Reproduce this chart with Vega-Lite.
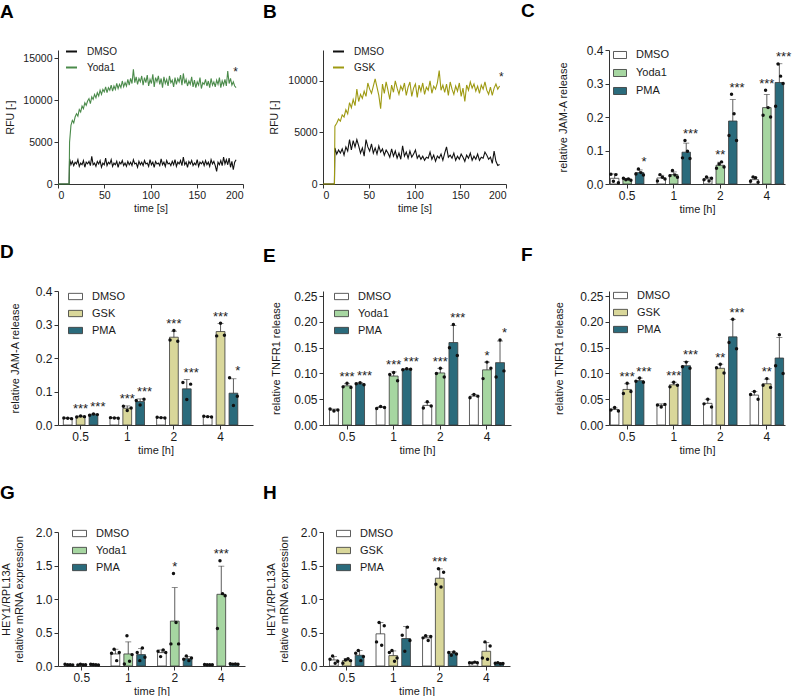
{
  "$schema": "https://vega.github.io/schema/vega-lite/v6.json",
  "padding": {"left": 0, "top": 2, "right": 2, "bottom": 0},
  "columns": 3,
  "align": "each",
  "spacing": {"row": 29, "column": 10},
  "resolve": {
    "scale": {"color": "independent", "fill": "independent"},
    "legend": {"color": "independent", "fill": "independent"}
  },
  "datasets": {
    "tsA": [
      {"t":0,"DMSO":0,"Yoda1":0},{"t":12,"DMSO":0,"Yoda1":0},
      {"t":12.5,"DMSO":3000,"Yoda1":5000},{"t":14,"DMSO":2300,"Yoda1":7000},{"t":15.5,"DMSO":2700,"Yoda1":7600},{"t":17,"DMSO":2200,"Yoda1":7300},{"t":18.5,"DMSO":2600,"Yoda1":8000},{"t":20,"DMSO":2400,"Yoda1":8400},{"t":21.5,"DMSO":2900,"Yoda1":8100},{"t":23,"DMSO":2100,"Yoda1":8900},{"t":24.5,"DMSO":2500,"Yoda1":8600},{"t":26,"DMSO":2300,"Yoda1":9300},{"t":27.5,"DMSO":2800,"Yoda1":9000},{"t":29,"DMSO":2000,"Yoda1":9700},{"t":30.5,"DMSO":2600,"Yoda1":9400},{"t":32,"DMSO":2400,"Yoda1":9900},{"t":33.5,"DMSO":2700,"Yoda1":10200},{"t":35,"DMSO":2200,"Yoda1":9600},{"t":36.5,"DMSO":3300,"Yoda1":10400},{"t":38,"DMSO":2300,"Yoda1":10100},{"t":39.5,"DMSO":2500,"Yoda1":10700},{"t":41,"DMSO":2100,"Yoda1":10300},{"t":42.5,"DMSO":2700,"Yoda1":10900},{"t":44,"DMSO":2400,"Yoda1":10500},{"t":45.5,"DMSO":2800,"Yoda1":11200},{"t":47,"DMSO":2000,"Yoda1":10700},{"t":48.5,"DMSO":2500,"Yoda1":11300},{"t":50,"DMSO":2300,"Yoda1":11000},{"t":51.5,"DMSO":3100,"Yoda1":11600},{"t":53,"DMSO":2200,"Yoda1":10900},{"t":54.5,"DMSO":2600,"Yoda1":11500},{"t":56,"DMSO":2400,"Yoda1":11200},{"t":57.5,"DMSO":2900,"Yoda1":11800},{"t":59,"DMSO":2100,"Yoda1":11100},{"t":60.5,"DMSO":2500,"Yoda1":11700},{"t":62,"DMSO":2300,"Yoda1":11300},{"t":63.5,"DMSO":2700,"Yoda1":12000},{"t":65,"DMSO":2000,"Yoda1":11400},{"t":66.5,"DMSO":2600,"Yoda1":11900},{"t":68,"DMSO":2400,"Yoda1":11500},{"t":69.5,"DMSO":2800,"Yoda1":12300},{"t":71,"DMSO":2200,"Yoda1":11600},{"t":72.5,"DMSO":2500,"Yoda1":12100},{"t":74,"DMSO":2100,"Yoda1":11700},{"t":75.5,"DMSO":2700,"Yoda1":12500},{"t":77,"DMSO":2300,"Yoda1":11800},{"t":78.5,"DMSO":2600,"Yoda1":12600},{"t":80,"DMSO":2200,"Yoda1":12000},{"t":81.5,"DMSO":2900,"Yoda1":13700},{"t":83,"DMSO":2400,"Yoda1":12100},{"t":84.5,"DMSO":2500,"Yoda1":12800},{"t":86,"DMSO":2000,"Yoda1":11900},{"t":87.5,"DMSO":2700,"Yoda1":12600},{"t":89,"DMSO":2300,"Yoda1":12200},{"t":90.5,"DMSO":2600,"Yoda1":12900},{"t":92,"DMSO":2200,"Yoda1":11800},{"t":93.5,"DMSO":2800,"Yoda1":12700},{"t":95,"DMSO":2400,"Yoda1":12100},{"t":96.5,"DMSO":2500,"Yoda1":13000},{"t":98,"DMSO":2100,"Yoda1":11700},{"t":99.5,"DMSO":2900,"Yoda1":12500},{"t":101,"DMSO":2300,"Yoda1":12000},{"t":102.5,"DMSO":2600,"Yoda1":13100},{"t":104,"DMSO":2000,"Yoda1":11600},{"t":105.5,"DMSO":2700,"Yoda1":12700},{"t":107,"DMSO":2400,"Yoda1":12200},{"t":108.5,"DMSO":2500,"Yoda1":12900},{"t":110,"DMSO":2200,"Yoda1":11900},{"t":111.5,"DMSO":3000,"Yoda1":12600},{"t":113,"DMSO":2300,"Yoda1":11500},{"t":114.5,"DMSO":2600,"Yoda1":12800},{"t":116,"DMSO":2100,"Yoda1":12000},{"t":117.5,"DMSO":2800,"Yoda1":12500},{"t":119,"DMSO":2400,"Yoda1":11700},{"t":120.5,"DMSO":2500,"Yoda1":12900},{"t":122,"DMSO":2200,"Yoda1":12100},{"t":123.5,"DMSO":2700,"Yoda1":12400},{"t":125,"DMSO":2300,"Yoda1":11600},{"t":126.5,"DMSO":2900,"Yoda1":12700},{"t":128,"DMSO":2100,"Yoda1":11900},{"t":129.5,"DMSO":2600,"Yoda1":12600},{"t":131,"DMSO":2400,"Yoda1":12200},{"t":132.5,"DMSO":2800,"Yoda1":13000},{"t":134,"DMSO":2200,"Yoda1":11800},{"t":135.5,"DMSO":3200,"Yoda1":13200},{"t":137,"DMSO":2300,"Yoda1":12000},{"t":138.5,"DMSO":2600,"Yoda1":12500},{"t":140,"DMSO":2000,"Yoda1":11700},{"t":141.5,"DMSO":2700,"Yoda1":12300},{"t":143,"DMSO":2400,"Yoda1":11900},{"t":144.5,"DMSO":2800,"Yoda1":12800},{"t":146,"DMSO":2200,"Yoda1":11600},{"t":147.5,"DMSO":2500,"Yoda1":12400},{"t":149,"DMSO":2300,"Yoda1":11500},{"t":150.5,"DMSO":2900,"Yoda1":12200},{"t":152,"DMSO":2100,"Yoda1":11800},{"t":153.5,"DMSO":2600,"Yoda1":12700},{"t":155,"DMSO":2400,"Yoda1":11400},{"t":156.5,"DMSO":2700,"Yoda1":12100},{"t":158,"DMSO":2200,"Yoda1":11900},{"t":159.5,"DMSO":2800,"Yoda1":12500},{"t":161,"DMSO":2300,"Yoda1":11700},{"t":162.5,"DMSO":2600,"Yoda1":12300},{"t":164,"DMSO":2100,"Yoda1":11500},{"t":165.5,"DMSO":2900,"Yoda1":12600},{"t":167,"DMSO":2400,"Yoda1":11800},{"t":168.5,"DMSO":2700,"Yoda1":12200},{"t":170,"DMSO":2200,"Yoda1":11600},{"t":171.5,"DMSO":1500,"Yoda1":12400},{"t":173,"DMSO":2600,"Yoda1":11900},{"t":174.5,"DMSO":2300,"Yoda1":12700},{"t":176,"DMSO":2800,"Yoda1":11500},{"t":177.5,"DMSO":2200,"Yoda1":12300},{"t":179,"DMSO":3200,"Yoda1":11800},{"t":180.5,"DMSO":2400,"Yoda1":12500},{"t":182,"DMSO":2900,"Yoda1":11700},{"t":183.5,"DMSO":2300,"Yoda1":13500},{"t":185,"DMSO":3100,"Yoda1":12000},{"t":186.5,"DMSO":2000,"Yoda1":12600},{"t":188,"DMSO":2700,"Yoda1":11800},{"t":189.5,"DMSO":1700,"Yoda1":12200},{"t":191,"DMSO":2600,"Yoda1":11700},{"t":192.5,"DMSO":2900,"Yoda1":11500}
    ],
    "tsB": [
      {"t":0,"DMSO":0,"GSK":0},{"t":12.5,"DMSO":0,"GSK":0},
      {"t":13,"DMSO":3500,"GSK":5600},{"t":15,"DMSO":2900,"GSK":5900},{"t":17,"DMSO":3300,"GSK":6300},{"t":19,"DMSO":3000,"GSK":6100},{"t":21,"DMSO":3400,"GSK":6700},{"t":23,"DMSO":2800,"GSK":6500},{"t":25,"DMSO":3600,"GSK":7200},{"t":27,"DMSO":3200,"GSK":6800},{"t":29,"DMSO":4300,"GSK":7900},{"t":31,"DMSO":3300,"GSK":7400},{"t":33,"DMSO":4200,"GSK":8200},{"t":35,"DMSO":3600,"GSK":7600},{"t":37,"DMSO":4300,"GSK":9200},{"t":39,"DMSO":3700,"GSK":8000},{"t":41,"DMSO":3000,"GSK":8700},{"t":43,"DMSO":3500,"GSK":8300},{"t":45,"DMSO":2700,"GSK":9000},{"t":47,"DMSO":4300,"GSK":8500},{"t":49,"DMSO":3600,"GSK":9800},{"t":51,"DMSO":3200,"GSK":9200},{"t":53,"DMSO":3900,"GSK":8800},{"t":55,"DMSO":3000,"GSK":9500},{"t":57,"DMSO":3500,"GSK":10200},{"t":59,"DMSO":2900,"GSK":9400},{"t":61,"DMSO":3700,"GSK":8600},{"t":63,"DMSO":3100,"GSK":7300},{"t":65,"DMSO":3400,"GSK":9700},{"t":67,"DMSO":2800,"GSK":8800},{"t":69,"DMSO":3300,"GSK":9900},{"t":71,"DMSO":3000,"GSK":9100},{"t":73,"DMSO":2600,"GSK":8200},{"t":75,"DMSO":3400,"GSK":9600},{"t":77,"DMSO":2700,"GSK":8900},{"t":79,"DMSO":3200,"GSK":10000},{"t":81,"DMSO":2500,"GSK":9300},{"t":83,"DMSO":3000,"GSK":8700},{"t":85,"DMSO":2400,"GSK":9500},{"t":87,"DMSO":3700,"GSK":9100},{"t":89,"DMSO":2700,"GSK":9800},{"t":91,"DMSO":3100,"GSK":8600},{"t":93,"DMSO":2500,"GSK":9400},{"t":95,"DMSO":3200,"GSK":9900},{"t":97,"DMSO":2600,"GSK":8500},{"t":99,"DMSO":2900,"GSK":9300},{"t":101,"DMSO":3300,"GSK":9700},{"t":103,"DMSO":2500,"GSK":8400},{"t":105,"DMSO":2800,"GSK":9600},{"t":107,"DMSO":2400,"GSK":9000},{"t":109,"DMSO":2700,"GSK":9800},{"t":111,"DMSO":2300,"GSK":8700},{"t":113,"DMSO":2600,"GSK":9400},{"t":115,"DMSO":2500,"GSK":9100},{"t":117,"DMSO":3100,"GSK":10000},{"t":119,"DMSO":2400,"GSK":8800},{"t":121,"DMSO":2800,"GSK":9500},{"t":123,"DMSO":2200,"GSK":9200},{"t":125,"DMSO":2700,"GSK":9800},{"t":127,"DMSO":2500,"GSK":11000},{"t":129,"DMSO":2900,"GSK":9100},{"t":131,"DMSO":2300,"GSK":9600},{"t":133,"DMSO":3000,"GSK":8900},{"t":135,"DMSO":3600,"GSK":9700},{"t":137,"DMSO":2600,"GSK":8600},{"t":139,"DMSO":2800,"GSK":9900},{"t":141,"DMSO":2500,"GSK":9200},{"t":143,"DMSO":3000,"GSK":8700},{"t":145,"DMSO":2300,"GSK":9500},{"t":147,"DMSO":2700,"GSK":9000},{"t":149,"DMSO":2400,"GSK":9800},{"t":151,"DMSO":2900,"GSK":8500},{"t":153,"DMSO":2600,"GSK":9300},{"t":155,"DMSO":2200,"GSK":8000},{"t":157,"DMSO":2800,"GSK":9600},{"t":159,"DMSO":2500,"GSK":9100},{"t":161,"DMSO":3000,"GSK":9900},{"t":163,"DMSO":2300,"GSK":9300},{"t":165,"DMSO":2700,"GSK":9700},{"t":167,"DMSO":2400,"GSK":9000},{"t":169,"DMSO":2900,"GSK":9500},{"t":171,"DMSO":2300,"GSK":8800},{"t":173,"DMSO":2600,"GSK":9600},{"t":175,"DMSO":2500,"GSK":9200},{"t":177,"DMSO":3100,"GSK":9900},{"t":179,"DMSO":2800,"GSK":9100},{"t":181,"DMSO":2400,"GSK":8700},{"t":183,"DMSO":2600,"GSK":9400},{"t":185,"DMSO":2000,"GSK":8600},{"t":187,"DMSO":3200,"GSK":9300},{"t":189,"DMSO":2200,"GSK":9700},{"t":191,"DMSO":1800,"GSK":9200},{"t":193,"DMSO":1900,"GSK":9500}
    ],
    "sC": [
      {"t":"0.5","g":"DMSO","cell":"0.5 DMSO","mean":0.017,"sd":0.013},
      {"t":"0.5","g":"Yoda1","cell":"0.5 Yoda1","mean":0.014,"sd":0.003},
      {"t":"0.5","g":"PMA","cell":"0.5 PMA","mean":0.034,"sd":0.008,"sig":"*"},
      {"t":"1","g":"DMSO","cell":"1 DMSO","mean":0.018,"sd":0.008},
      {"t":"1","g":"Yoda1","cell":"1 Yoda1","mean":0.028,"sd":0.008},
      {"t":"1","g":"PMA","cell":"1 PMA","mean":0.095,"sd":0.027,"sig":"***"},
      {"t":"2","g":"DMSO","cell":"2 DMSO","mean":0.015,"sd":0.005},
      {"t":"2","g":"Yoda1","cell":"2 Yoda1","mean":0.056,"sd":0.009,"sig":"**"},
      {"t":"2","g":"PMA","cell":"2 PMA","mean":0.188,"sd":0.064,"sig":"***"},
      {"t":"4","g":"DMSO","cell":"4 DMSO","mean":0.013,"sd":0.007},
      {"t":"4","g":"Yoda1","cell":"4 Yoda1","mean":0.228,"sd":0.039,"sig":"***"},
      {"t":"4","g":"PMA","cell":"4 PMA","mean":0.303,"sd":0.056,"sig":"***"}
    ],
    "rC": [
      {"t":"0.5","g":"DMSO","r":1,"v":0.029},{"t":"0.5","g":"DMSO","r":2,"v":0.008},{"t":"0.5","g":"DMSO","r":3,"v":0.028},{"t":"0.5","g":"DMSO","r":4,"v":0.004},
      {"t":"0.5","g":"Yoda1","r":1,"v":0.017},{"t":"0.5","g":"Yoda1","r":2,"v":0.013},{"t":"0.5","g":"Yoda1","r":3,"v":0.015},{"t":"0.5","g":"Yoda1","r":4,"v":0.011},
      {"t":"0.5","g":"PMA","r":1,"v":0.030},{"t":"0.5","g":"PMA","r":2,"v":0.045},{"t":"0.5","g":"PMA","r":3,"v":0.034},{"t":"0.5","g":"PMA","r":4,"v":0.027},
      {"t":"1","g":"DMSO","r":1,"v":0.009},{"t":"1","g":"DMSO","r":2,"v":0.028},{"t":"1","g":"DMSO","r":3,"v":0.020},{"t":"1","g":"DMSO","r":4,"v":0.015},
      {"t":"1","g":"Yoda1","r":1,"v":0.025},{"t":"1","g":"Yoda1","r":2,"v":0.040},{"t":"1","g":"Yoda1","r":3,"v":0.027},{"t":"1","g":"Yoda1","r":4,"v":0.020},
      {"t":"1","g":"PMA","r":1,"v":0.078},{"t":"1","g":"PMA","r":2,"v":0.130},{"t":"1","g":"PMA","r":3,"v":0.098},{"t":"1","g":"PMA","r":4,"v":0.076},
      {"t":"2","g":"DMSO","r":1,"v":0.013},{"t":"2","g":"DMSO","r":2,"v":0.021},{"t":"2","g":"DMSO","r":3,"v":0.009},{"t":"2","g":"DMSO","r":4,"v":0.017},
      {"t":"2","g":"Yoda1","r":1,"v":0.047},{"t":"2","g":"Yoda1","r":2,"v":0.060},{"t":"2","g":"Yoda1","r":3,"v":0.066},{"t":"2","g":"Yoda1","r":4,"v":0.051},
      {"t":"2","g":"PMA","r":1,"v":0.145},{"t":"2","g":"PMA","r":2,"v":0.268},{"t":"2","g":"PMA","r":3,"v":0.210},{"t":"2","g":"PMA","r":4,"v":0.130},
      {"t":"4","g":"DMSO","r":1,"v":0.008},{"t":"4","g":"DMSO","r":2,"v":0.021},{"t":"4","g":"DMSO","r":3,"v":0.019},{"t":"4","g":"DMSO","r":4,"v":0.005},
      {"t":"4","g":"Yoda1","r":1,"v":0.205},{"t":"4","g":"Yoda1","r":2,"v":0.280},{"t":"4","g":"Yoda1","r":3,"v":0.228},{"t":"4","g":"Yoda1","r":4,"v":0.200},
      {"t":"4","g":"PMA","r":1,"v":0.232},{"t":"4","g":"PMA","r":2,"v":0.358},{"t":"4","g":"PMA","r":3,"v":0.322},{"t":"4","g":"PMA","r":4,"v":0.300}
    ],
    "sD": [
      {"t":"0.5","g":"DMSO","cell":"0.5 DMSO","mean":0.020,"sd":0.001},
      {"t":"0.5","g":"GSK","cell":"0.5 GSK","mean":0.025,"sd":0.002,"sig":"***"},
      {"t":"0.5","g":"PMA","cell":"0.5 PMA","mean":0.031,"sd":0.002,"sig":"***"},
      {"t":"1","g":"DMSO","cell":"1 DMSO","mean":0.021,"sd":0.001},
      {"t":"1","g":"GSK","cell":"1 GSK","mean":0.050,"sd":0.007,"sig":"***"},
      {"t":"1","g":"PMA","cell":"1 PMA","mean":0.070,"sd":0.008,"sig":"***"},
      {"t":"2","g":"DMSO","cell":"2 DMSO","mean":0.022,"sd":0.001},
      {"t":"2","g":"GSK","cell":"2 GSK","mean":0.262,"sd":0.018,"sig":"***"},
      {"t":"2","g":"PMA","cell":"2 PMA","mean":0.108,"sd":0.028,"sig":"***"},
      {"t":"4","g":"DMSO","cell":"4 DMSO","mean":0.025,"sd":0.001},
      {"t":"4","g":"GSK","cell":"4 GSK","mean":0.279,"sd":0.024,"sig":"***"},
      {"t":"4","g":"PMA","cell":"4 PMA","mean":0.095,"sd":0.043,"sig":"*"}
    ],
    "rD": [
      {"t":"0.5","g":"DMSO","r":1,"v":0.021},{"t":"0.5","g":"DMSO","r":2,"v":0.020},{"t":"0.5","g":"DMSO","r":3,"v":0.019},
      {"t":"0.5","g":"GSK","r":1,"v":0.024},{"t":"0.5","g":"GSK","r":2,"v":0.027},{"t":"0.5","g":"GSK","r":3,"v":0.025},
      {"t":"0.5","g":"PMA","r":1,"v":0.029},{"t":"0.5","g":"PMA","r":2,"v":0.033},{"t":"0.5","g":"PMA","r":3,"v":0.031},
      {"t":"1","g":"DMSO","r":1,"v":0.022},{"t":"1","g":"DMSO","r":2,"v":0.021},{"t":"1","g":"DMSO","r":3,"v":0.020},
      {"t":"1","g":"GSK","r":1,"v":0.056},{"t":"1","g":"GSK","r":2,"v":0.043},{"t":"1","g":"GSK","r":3,"v":0.051},
      {"t":"1","g":"PMA","r":1,"v":0.073},{"t":"1","g":"PMA","r":2,"v":0.060},{"t":"1","g":"PMA","r":3,"v":0.077},
      {"t":"2","g":"DMSO","r":1,"v":0.023},{"t":"2","g":"DMSO","r":2,"v":0.022},{"t":"2","g":"DMSO","r":3,"v":0.021},
      {"t":"2","g":"GSK","r":1,"v":0.254},{"t":"2","g":"GSK","r":2,"v":0.282},{"t":"2","g":"GSK","r":3,"v":0.250},
      {"t":"2","g":"PMA","r":1,"v":0.127},{"t":"2","g":"PMA","r":2,"v":0.076},{"t":"2","g":"PMA","r":3,"v":0.122},
      {"t":"4","g":"DMSO","r":1,"v":0.026},{"t":"4","g":"DMSO","r":2,"v":0.025},{"t":"4","g":"DMSO","r":3,"v":0.024},
      {"t":"4","g":"GSK","r":1,"v":0.266},{"t":"4","g":"GSK","r":2,"v":0.304},{"t":"4","g":"GSK","r":3,"v":0.268},
      {"t":"4","g":"PMA","r":1,"v":0.141},{"t":"4","g":"PMA","r":2,"v":0.058},{"t":"4","g":"PMA","r":3,"v":0.086}
    ],
    "sE": [
      {"t":"0.5","g":"DMSO","cell":"0.5 DMSO","mean":0.029,"sd":0.002},
      {"t":"0.5","g":"Yoda1","cell":"0.5 Yoda1","mean":0.076,"sd":0.004,"sig":"***"},
      {"t":"0.5","g":"PMA","cell":"0.5 PMA","mean":0.080,"sd":0.002,"sig":"***"},
      {"t":"1","g":"DMSO","cell":"1 DMSO","mean":0.034,"sd":0.002},
      {"t":"1","g":"Yoda1","cell":"1 Yoda1","mean":0.095,"sd":0.008,"sig":"***"},
      {"t":"1","g":"PMA","cell":"1 PMA","mean":0.108,"sd":0.001,"sig":"***"},
      {"t":"2","g":"DMSO","cell":"2 DMSO","mean":0.038,"sd":0.006},
      {"t":"2","g":"Yoda1","cell":"2 Yoda1","mean":0.101,"sd":0.009,"sig":"***"},
      {"t":"2","g":"PMA","cell":"2 PMA","mean":0.160,"sd":0.033,"sig":"***"},
      {"t":"4","g":"DMSO","cell":"4 DMSO","mean":0.056,"sd":0.003},
      {"t":"4","g":"Yoda1","cell":"4 Yoda1","mean":0.107,"sd":0.015,"sig":"*"},
      {"t":"4","g":"PMA","cell":"4 PMA","mean":0.121,"sd":0.042,"sig":"*"}
    ],
    "rE": [
      {"t":"0.5","g":"DMSO","r":1,"v":0.031},{"t":"0.5","g":"DMSO","r":2,"v":0.027},{"t":"0.5","g":"DMSO","r":3,"v":0.029},
      {"t":"0.5","g":"Yoda1","r":1,"v":0.074},{"t":"0.5","g":"Yoda1","r":2,"v":0.081},{"t":"0.5","g":"Yoda1","r":3,"v":0.073},
      {"t":"0.5","g":"PMA","r":1,"v":0.080},{"t":"0.5","g":"PMA","r":2,"v":0.082},{"t":"0.5","g":"PMA","r":3,"v":0.078},
      {"t":"1","g":"DMSO","r":1,"v":0.032},{"t":"1","g":"DMSO","r":2,"v":0.036},{"t":"1","g":"DMSO","r":3,"v":0.034},
      {"t":"1","g":"Yoda1","r":1,"v":0.098},{"t":"1","g":"Yoda1","r":2,"v":0.102},{"t":"1","g":"Yoda1","r":3,"v":0.086},
      {"t":"1","g":"PMA","r":1,"v":0.107},{"t":"1","g":"PMA","r":2,"v":0.109},{"t":"1","g":"PMA","r":3,"v":0.108},
      {"t":"2","g":"DMSO","r":1,"v":0.033},{"t":"2","g":"DMSO","r":2,"v":0.045},{"t":"2","g":"DMSO","r":3,"v":0.037},
      {"t":"2","g":"Yoda1","r":1,"v":0.100},{"t":"2","g":"Yoda1","r":2,"v":0.110},{"t":"2","g":"Yoda1","r":3,"v":0.093},
      {"t":"2","g":"PMA","r":1,"v":0.150},{"t":"2","g":"PMA","r":2,"v":0.195},{"t":"2","g":"PMA","r":3,"v":0.135},
      {"t":"4","g":"DMSO","r":1,"v":0.053},{"t":"4","g":"DMSO","r":2,"v":0.059},{"t":"4","g":"DMSO","r":3,"v":0.056},
      {"t":"4","g":"Yoda1","r":1,"v":0.090},{"t":"4","g":"Yoda1","r":2,"v":0.122},{"t":"4","g":"Yoda1","r":3,"v":0.110},
      {"t":"4","g":"PMA","r":1,"v":0.093},{"t":"4","g":"PMA","r":2,"v":0.165},{"t":"4","g":"PMA","r":3,"v":0.105}
    ],
    "sF": [
      {"t":"0.5","g":"DMSO","cell":"0.5 DMSO","mean":0.030,"sd":0.003},
      {"t":"0.5","g":"GSK","cell":"0.5 GSK","mean":0.069,"sd":0.011,"sig":"***"},
      {"t":"0.5","g":"PMA","cell":"0.5 PMA","mean":0.086,"sd":0.005,"sig":"***"},
      {"t":"1","g":"DMSO","cell":"1 DMSO","mean":0.038,"sd":0.003},
      {"t":"1","g":"GSK","cell":"1 GSK","mean":0.078,"sd":0.005,"sig":"***"},
      {"t":"1","g":"PMA","cell":"1 PMA","mean":0.115,"sd":0.008,"sig":"***"},
      {"t":"2","g":"DMSO","cell":"2 DMSO","mean":0.042,"sd":0.008},
      {"t":"2","g":"GSK","cell":"2 GSK","mean":0.110,"sd":0.008,"sig":"**"},
      {"t":"2","g":"PMA","cell":"2 PMA","mean":0.171,"sd":0.034,"sig":"***"},
      {"t":"4","g":"DMSO","cell":"4 DMSO","mean":0.058,"sd":0.007},
      {"t":"4","g":"GSK","cell":"4 GSK","mean":0.080,"sd":0.009,"sig":"**"},
      {"t":"4","g":"PMA","cell":"4 PMA","mean":0.130,"sd":0.040}
    ],
    "rF": [
      {"t":"0.5","g":"DMSO","r":1,"v":0.029},{"t":"0.5","g":"DMSO","r":2,"v":0.034},{"t":"0.5","g":"DMSO","r":3,"v":0.027},
      {"t":"0.5","g":"GSK","r":1,"v":0.061},{"t":"0.5","g":"GSK","r":2,"v":0.081},{"t":"0.5","g":"GSK","r":3,"v":0.065},
      {"t":"0.5","g":"PMA","r":1,"v":0.085},{"t":"0.5","g":"PMA","r":2,"v":0.091},{"t":"0.5","g":"PMA","r":3,"v":0.083},
      {"t":"1","g":"DMSO","r":1,"v":0.039},{"t":"1","g":"DMSO","r":2,"v":0.035},{"t":"1","g":"DMSO","r":3,"v":0.040},
      {"t":"1","g":"GSK","r":1,"v":0.074},{"t":"1","g":"GSK","r":2,"v":0.083},{"t":"1","g":"GSK","r":3,"v":0.077},
      {"t":"1","g":"PMA","r":1,"v":0.113},{"t":"1","g":"PMA","r":2,"v":0.122},{"t":"1","g":"PMA","r":3,"v":0.110},
      {"t":"2","g":"DMSO","r":1,"v":0.041},{"t":"2","g":"DMSO","r":2,"v":0.050},{"t":"2","g":"DMSO","r":3,"v":0.035},
      {"t":"2","g":"GSK","r":1,"v":0.111},{"t":"2","g":"GSK","r":2,"v":0.118},{"t":"2","g":"GSK","r":3,"v":0.101},
      {"t":"2","g":"PMA","r":1,"v":0.160},{"t":"2","g":"PMA","r":2,"v":0.205},{"t":"2","g":"PMA","r":3,"v":0.148},
      {"t":"4","g":"DMSO","r":1,"v":0.059},{"t":"4","g":"DMSO","r":2,"v":0.065},{"t":"4","g":"DMSO","r":3,"v":0.050},
      {"t":"4","g":"GSK","r":1,"v":0.077},{"t":"4","g":"GSK","r":2,"v":0.090},{"t":"4","g":"GSK","r":3,"v":0.073},
      {"t":"4","g":"PMA","r":1,"v":0.115},{"t":"4","g":"PMA","r":2,"v":0.175},{"t":"4","g":"PMA","r":3,"v":0.100}
    ],
    "sG": [
      {"t":"0.5","g":"DMSO","cell":"0.5 DMSO","mean":0.02,"sd":0.004},
      {"t":"0.5","g":"Yoda1","cell":"0.5 Yoda1","mean":0.02,"sd":0.004},
      {"t":"0.5","g":"PMA","cell":"0.5 PMA","mean":0.02,"sd":0.004},
      {"t":"1","g":"DMSO","cell":"1 DMSO","mean":0.18,"sd":0.07},
      {"t":"1","g":"Yoda1","cell":"1 Yoda1","mean":0.18,"sd":0.18},
      {"t":"1","g":"PMA","cell":"1 PMA","mean":0.17,"sd":0.09},
      {"t":"2","g":"DMSO","cell":"2 DMSO","mean":0.2,"sd":0.04},
      {"t":"2","g":"Yoda1","cell":"2 Yoda1","mean":0.67,"sd":0.5,"sig":"*"},
      {"t":"2","g":"PMA","cell":"2 PMA","mean":0.11,"sd":0.03},
      {"t":"4","g":"DMSO","cell":"4 DMSO","mean":0.02,"sd":0.002},
      {"t":"4","g":"Yoda1","cell":"4 Yoda1","mean":1.07,"sd":0.42,"sig":"***"},
      {"t":"4","g":"PMA","cell":"4 PMA","mean":0.03,"sd":0.005}
    ],
    "rG": [
      {"t":"0.5","g":"DMSO","r":1,"v":0.025},{"t":"0.5","g":"DMSO","r":2,"v":0.02},{"t":"0.5","g":"DMSO","r":3,"v":0.02},{"t":"0.5","g":"DMSO","r":4,"v":0.015},
      {"t":"0.5","g":"Yoda1","r":1,"v":0.015},{"t":"0.5","g":"Yoda1","r":2,"v":0.025},{"t":"0.5","g":"Yoda1","r":3,"v":0.02},{"t":"0.5","g":"Yoda1","r":4,"v":0.02},
      {"t":"0.5","g":"PMA","r":1,"v":0.025},{"t":"0.5","g":"PMA","r":2,"v":0.022},{"t":"0.5","g":"PMA","r":3,"v":0.018},{"t":"0.5","g":"PMA","r":4,"v":0.015},
      {"t":"1","g":"DMSO","r":1,"v":0.19},{"t":"1","g":"DMSO","r":2,"v":0.25},{"t":"1","g":"DMSO","r":3,"v":0.08},{"t":"1","g":"DMSO","r":4,"v":0.20},
      {"t":"1","g":"Yoda1","r":1,"v":0.03},{"t":"1","g":"Yoda1","r":2,"v":0.45},{"t":"1","g":"Yoda1","r":3,"v":0.07},{"t":"1","g":"Yoda1","r":4,"v":0.17},
      {"t":"1","g":"PMA","r":1,"v":0.20},{"t":"1","g":"PMA","r":2,"v":0.08},{"t":"1","g":"PMA","r":3,"v":0.27},{"t":"1","g":"PMA","r":4,"v":0.13},
      {"t":"2","g":"DMSO","r":1,"v":0.22},{"t":"2","g":"DMSO","r":2,"v":0.14},{"t":"2","g":"DMSO","r":3,"v":0.24},{"t":"2","g":"DMSO","r":4,"v":0.20},
      {"t":"2","g":"Yoda1","r":1,"v":0.33},{"t":"2","g":"Yoda1","r":2,"v":1.38},{"t":"2","g":"Yoda1","r":3,"v":0.65},{"t":"2","g":"Yoda1","r":4,"v":0.33},
      {"t":"2","g":"PMA","r":1,"v":0.10},{"t":"2","g":"PMA","r":2,"v":0.15},{"t":"2","g":"PMA","r":3,"v":0.08},{"t":"2","g":"PMA","r":4,"v":0.12},
      {"t":"4","g":"DMSO","r":1,"v":0.022},{"t":"4","g":"DMSO","r":2,"v":0.02},{"t":"4","g":"DMSO","r":3,"v":0.019},{"t":"4","g":"DMSO","r":4,"v":0.018},
      {"t":"4","g":"Yoda1","r":1,"v":0.56},{"t":"4","g":"Yoda1","r":2,"v":1.57},{"t":"4","g":"Yoda1","r":3,"v":1.08},{"t":"4","g":"Yoda1","r":4,"v":1.05},
      {"t":"4","g":"PMA","r":1,"v":0.035},{"t":"4","g":"PMA","r":2,"v":0.028},{"t":"4","g":"PMA","r":3,"v":0.03},{"t":"4","g":"PMA","r":4,"v":0.025}
    ],
    "sH": [
      {"t":"0.5","g":"DMSO","cell":"0.5 DMSO","mean":0.09,"sd":0.05},
      {"t":"0.5","g":"GSK","cell":"0.5 GSK","mean":0.08,"sd":0.03},
      {"t":"0.5","g":"PMA","cell":"0.5 PMA","mean":0.16,"sd":0.07},
      {"t":"1","g":"DMSO","cell":"1 DMSO","mean":0.48,"sd":0.17},
      {"t":"1","g":"GSK","cell":"1 GSK","mean":0.155,"sd":0.07},
      {"t":"1","g":"PMA","cell":"1 PMA","mean":0.41,"sd":0.18},
      {"t":"2","g":"DMSO","cell":"2 DMSO","mean":0.42,"sd":0.03},
      {"t":"2","g":"GSK","cell":"2 GSK","mean":1.31,"sd":0.14,"sig":"***"},
      {"t":"2","g":"PMA","cell":"2 PMA","mean":0.19,"sd":0.022},
      {"t":"4","g":"DMSO","cell":"4 DMSO","mean":0.05,"sd":0.006},
      {"t":"4","g":"GSK","cell":"4 GSK","mean":0.22,"sd":0.13},
      {"t":"4","g":"PMA","cell":"4 PMA","mean":0.04,"sd":0.008}
    ],
    "rH": [
      {"t":"0.5","g":"DMSO","r":1,"v":0.10},{"t":"0.5","g":"DMSO","r":2,"v":0.15},{"t":"0.5","g":"DMSO","r":3,"v":0.04},{"t":"0.5","g":"DMSO","r":4,"v":0.07},
      {"t":"0.5","g":"GSK","r":1,"v":0.04},{"t":"0.5","g":"GSK","r":2,"v":0.09},{"t":"0.5","g":"GSK","r":3,"v":0.11},{"t":"0.5","g":"GSK","r":4,"v":0.08},
      {"t":"0.5","g":"PMA","r":1,"v":0.19},{"t":"0.5","g":"PMA","r":2,"v":0.23},{"t":"0.5","g":"PMA","r":3,"v":0.08},{"t":"0.5","g":"PMA","r":4,"v":0.14},
      {"t":"1","g":"DMSO","r":1,"v":0.36},{"t":"1","g":"DMSO","r":2,"v":0.65},{"t":"1","g":"DMSO","r":3,"v":0.31},{"t":"1","g":"DMSO","r":4,"v":0.60},
      {"t":"1","g":"GSK","r":1,"v":0.20},{"t":"1","g":"GSK","r":2,"v":0.23},{"t":"1","g":"GSK","r":3,"v":0.07},{"t":"1","g":"GSK","r":4,"v":0.12},
      {"t":"1","g":"PMA","r":1,"v":0.46},{"t":"1","g":"PMA","r":2,"v":0.22},{"t":"1","g":"PMA","r":3,"v":0.58},{"t":"1","g":"PMA","r":4,"v":0.38},
      {"t":"2","g":"DMSO","r":1,"v":0.42},{"t":"2","g":"DMSO","r":2,"v":0.45},{"t":"2","g":"DMSO","r":3,"v":0.38},{"t":"2","g":"DMSO","r":4,"v":0.44},
      {"t":"2","g":"GSK","r":1,"v":1.22},{"t":"2","g":"GSK","r":2,"v":1.45},{"t":"2","g":"GSK","r":3,"v":1.18},{"t":"2","g":"GSK","r":4,"v":1.40},
      {"t":"2","g":"PMA","r":1,"v":0.20},{"t":"2","g":"PMA","r":2,"v":0.16},{"t":"2","g":"PMA","r":3,"v":0.21},{"t":"2","g":"PMA","r":4,"v":0.18},
      {"t":"4","g":"DMSO","r":1,"v":0.05},{"t":"4","g":"DMSO","r":2,"v":0.045},{"t":"4","g":"DMSO","r":3,"v":0.058},{"t":"4","g":"DMSO","r":4,"v":0.048},
      {"t":"4","g":"GSK","r":1,"v":0.12},{"t":"4","g":"GSK","r":2,"v":0.36},{"t":"4","g":"GSK","r":3,"v":0.10},{"t":"4","g":"GSK","r":4,"v":0.30},
      {"t":"4","g":"PMA","r":1,"v":0.04},{"t":"4","g":"PMA","r":2,"v":0.05},{"t":"4","g":"PMA","r":3,"v":0.032},{"t":"4","g":"PMA","r":4,"v":0.038}
    ]
  },
  "concat": [
    {
      "title": {"text": "A", "dx": -58},
      "width": 185, "height": 134,
      "layer": [
        {
          "data": {"name": "tsA"},
          "transform": [{"fold": ["DMSO", "Yoda1"], "as": ["series", "rfu"]}],
          "mark": {"type": "line", "strokeWidth": 1.1},
          "encoding": {
            "x": {"field": "t", "type": "quantitative", "title": "time [s]", "scale": {"domain": [0, 200]}, "axis": {"values": [0, 50, 100, 150, 200], "titlePadding": 3, "labelFontSize": 10.5, "titleFontSize": 10.5}},
            "y": {"field": "rfu", "type": "quantitative", "title": "RFU [-]", "scale": {"domain": [0, 15000]}, "axis": {"values": [0, 5000, 10000, 15000], "format": "d", "titlePadding": 7, "labelFontSize": 10.5, "titleFontSize": 10.5}},
            "color": {"field": "series", "type": "nominal", "scale": {"domain": ["DMSO", "Yoda1"], "range": ["#111111", "#4b8b4b"]},
              "legend": {"orient": "none", "legendX": 7, "legendY": -5, "title": null, "symbolType": "stroke", "symbolSize": 121, "symbolStrokeWidth": 2, "labelFontSize": 10, "rowPadding": 4, "labelOffset": 9, "padding": 0}}
          }
        },
        {
          "data": {"values": [{"t": 192, "rfu": 13700, "sig": "*"}]},
          "mark": {"type": "text", "fontSize": 12, "baseline": "alphabetic", "dy": 7, "color": "#222222"},
          "encoding": {
            "x": {"field": "t", "type": "quantitative", "title": "time [s]", "axis": {"values": [0, 50, 100, 150, 200], "titlePadding": 3, "labelFontSize": 10.5, "titleFontSize": 10.5}},
            "y": {"field": "rfu", "type": "quantitative", "title": "RFU [-]", "axis": {"values": [0, 5000, 10000, 15000], "format": "d", "titlePadding": 7, "labelFontSize": 10.5, "titleFontSize": 10.5}},
            "text": {"field": "sig"}
          }
        }
      ]
    },
    {
      "title": {"text": "B", "dx": -60},
      "width": 183, "height": 134,
      "layer": [
        {
          "data": {"name": "tsB"},
          "transform": [{"fold": ["DMSO", "GSK"], "as": ["series", "rfu"]}],
          "mark": {"type": "line", "strokeWidth": 1.1},
          "encoding": {
            "x": {"field": "t", "type": "quantitative", "title": "time [s]", "scale": {"domain": [0, 200]}, "axis": {"values": [0, 50, 100, 150, 200], "titlePadding": 3, "labelFontSize": 10.5, "titleFontSize": 10.5}},
            "y": {"field": "rfu", "type": "quantitative", "title": "RFU [-]", "scale": {"domain": [0, 12500]}, "axis": {"values": [0, 5000, 10000], "format": "d", "titlePadding": 8, "labelFontSize": 10.5, "titleFontSize": 10.5}},
            "color": {"field": "series", "type": "nominal", "scale": {"domain": ["DMSO", "GSK"], "range": ["#111111", "#9e9a12"]},
              "legend": {"orient": "none", "legendX": 9, "legendY": -5, "title": null, "symbolType": "stroke", "symbolSize": 121, "symbolStrokeWidth": 2, "labelFontSize": 10, "rowPadding": 4, "labelOffset": 9, "padding": 0}}
          }
        },
        {
          "data": {"values": [{"t": 195, "rfu": 10650, "sig": "*"}]},
          "mark": {"type": "text", "fontSize": 12, "baseline": "alphabetic", "dy": 7, "color": "#222222"},
          "encoding": {
            "x": {"field": "t", "type": "quantitative", "title": "time [s]", "axis": {"values": [0, 50, 100, 150, 200], "titlePadding": 3, "labelFontSize": 10.5, "titleFontSize": 10.5}},
            "y": {"field": "rfu", "type": "quantitative", "title": "RFU [-]", "axis": {"values": [0, 5000, 10000], "format": "d", "titlePadding": 8, "labelFontSize": 10.5, "titleFontSize": 10.5}},
            "text": {"field": "sig"}
          }
        }
      ]
    },
    {
      "title": {"text": "C", "dx": -88},
      "width": 176, "height": 134,
      "resolve": {"scale": {"xOffset": "independent"}},
      "encoding": {
        "x": {"field": "t", "type": "ordinal", "title": "time [h]", "scale": {"domain": ["0.5", "1", "2", "4"], "paddingInner": 0.28, "paddingOuter": 0.03}, "axis": {"labelAngle": 0, "bandPosition": 0.5, "titlePadding": 2}}
      },
      "layer": [
        {
          "data": {"name": "sC"},
          "mark": {"type": "bar", "stroke": "#3a3a3a", "strokeWidth": 0.8},
          "encoding": {
            "xOffset": {"field": "g", "type": "nominal", "scale": {"domain": ["DMSO", "Yoda1", "PMA"], "paddingInner": 0.32, "paddingOuter": 0}},
            "y": {"field": "mean", "type": "quantitative", "title": "relative JAM-A release", "scale": {"domain": [0, 0.4]}, "axis": {"values": [0, 0.1, 0.2, 0.3, 0.4], "format": ".1f", "titlePadding": 18}},
            "fill": {"field": "g", "type": "nominal", "scale": {"domain": ["DMSO", "Yoda1", "PMA"], "range": ["#ffffff", "#a6d6a1", "#2a6b7c"]},
              "legend": {"orient": "none", "legendX": 4, "legendY": -2, "title": null, "symbolType": "M-1,-0.54H1V0.54H-1Z", "symbolSize": 169, "symbolStrokeColor": "#333333", "symbolStrokeWidth": 0.8, "labelFontSize": 11, "rowPadding": 5, "labelOffset": 9, "padding": 0}}
          }
        },
        {
          "data": {"name": "sC"},
          "transform": [{"calculate": "datum.mean + datum.sd", "as": "hi"}],
          "mark": {"type": "rule", "color": "#333333", "strokeWidth": 0.8},
          "encoding": {
            "xOffset": {"field": "g", "type": "nominal", "scale": {"domain": ["DMSO", "Yoda1", "PMA"], "paddingInner": 0.32, "paddingOuter": 0}},
            "y": {"field": "mean", "type": "quantitative", "title": "relative JAM-A release", "axis": {"values": [0, 0.1, 0.2, 0.3, 0.4], "format": ".1f", "titlePadding": 18}},
            "y2": {"field": "hi"}
          }
        },
        {
          "data": {"name": "sC"},
          "transform": [{"calculate": "datum.mean + datum.sd", "as": "hi"}],
          "mark": {"type": "tick", "orient": "horizontal", "color": "#333333", "size": 6, "thickness": 0.8},
          "encoding": {
            "xOffset": {"field": "g", "type": "nominal", "scale": {"domain": ["DMSO", "Yoda1", "PMA"], "paddingInner": 0.32, "paddingOuter": 0}},
            "y": {"field": "hi", "type": "quantitative", "title": "relative JAM-A release", "axis": {"values": [0, 0.1, 0.2, 0.3, 0.4], "format": ".1f", "titlePadding": 18}}
          }
        },
        {
          "data": {"name": "rC"},
          "transform": [
            {"joinaggregate": [{"op": "count", "as": "n"}], "groupby": ["t", "g"]},
            {"calculate": "(datum.g == 'DMSO' ? 0 : datum.g == 'PMA' ? 20 : 10) + (datum.n == 4 ? 2 : 3) * (datum.r - 1)", "as": "slot"}
          ],
          "mark": {"type": "circle", "color": "#111111", "size": 12, "opacity": 1},
          "encoding": {
            "xOffset": {"field": "slot", "type": "ordinal", "scale": {"type": "point", "domain": [0,1,2,3,4,5,6,7,8,9,10,11,12,13,14,15,16,17,18,19,20,21,22,23,24,25,26], "padding": 0.4}},
            "y": {"field": "v", "type": "quantitative", "title": "relative JAM-A release", "axis": {"values": [0, 0.1, 0.2, 0.3, 0.4], "format": ".1f", "titlePadding": 18}}
          }
        },
        {
          "data": {"name": "rC"},
          "transform": [
            {"aggregate": [{"op": "max", "field": "v", "as": "vmax"}], "groupby": ["t", "g"]},
            {"calculate": "datum.t + ' ' + datum.g", "as": "cell"},
            {"lookup": "cell", "from": {"data": {"name": "sC"}, "key": "cell", "fields": ["mean", "sd", "sig"]}},
            {"filter": "datum.sig"},
            {"calculate": "max(datum.vmax, datum.mean + datum.sd)", "as": "ytop"}
          ],
          "mark": {"type": "text", "fontSize": 13, "baseline": "alphabetic", "dy": -2.5, "color": "#222222"},
          "encoding": {
            "xOffset": {"field": "g", "type": "nominal", "scale": {"domain": ["DMSO", "Yoda1", "PMA"], "paddingInner": 0.32, "paddingOuter": 0}},
            "y": {"field": "ytop", "type": "quantitative", "title": "relative JAM-A release", "axis": {"values": [0, 0.1, 0.2, 0.3, 0.4], "format": ".1f", "titlePadding": 18}},
            "text": {"field": "sig"}
          }
        }
      ]
    },
    {
      "title": {"text": "D", "dx": -58},
      "width": 195, "height": 134,
      "resolve": {"scale": {"xOffset": "independent"}},
      "encoding": {
        "x": {"field": "t", "type": "ordinal", "title": "time [h]", "scale": {"domain": ["0.5", "1", "2", "4"], "paddingInner": 0.26, "paddingOuter": 0.22, "align": 0.26}, "axis": {"labelAngle": 0, "bandPosition": 0.5, "titlePadding": 2}}
      },
      "layer": [
        {
          "data": {"name": "sD"},
          "mark": {"type": "bar", "stroke": "#3a3a3a", "strokeWidth": 0.8},
          "encoding": {
            "xOffset": {"field": "g", "type": "nominal", "scale": {"domain": ["DMSO", "GSK", "PMA"], "paddingInner": 0.32, "paddingOuter": 0}},
            "y": {"field": "mean", "type": "quantitative", "title": "relative JAM-A release", "scale": {"domain": [0, 0.4]}, "axis": {"values": [0, 0.1, 0.2, 0.3, 0.4], "format": ".1f", "titlePadding": 15}},
            "fill": {"field": "g", "type": "nominal", "scale": {"domain": ["DMSO", "GSK", "PMA"], "range": ["#ffffff", "#d9d79a", "#2a6b7c"]},
              "legend": {"orient": "none", "legendX": 10, "legendY": -2, "title": null, "symbolType": "M-1,-0.45H1V0.45H-1Z", "symbolSize": 196, "symbolStrokeColor": "#333333", "symbolStrokeWidth": 0.8, "labelFontSize": 11, "rowPadding": 4, "labelOffset": 9, "padding": 0}}
          }
        },
        {
          "data": {"name": "sD"},
          "transform": [{"calculate": "datum.mean + datum.sd", "as": "hi"}],
          "mark": {"type": "rule", "color": "#333333", "strokeWidth": 0.8},
          "encoding": {
            "xOffset": {"field": "g", "type": "nominal", "scale": {"domain": ["DMSO", "GSK", "PMA"], "paddingInner": 0.32, "paddingOuter": 0}},
            "y": {"field": "mean", "type": "quantitative", "title": "relative JAM-A release", "axis": {"values": [0, 0.1, 0.2, 0.3, 0.4], "format": ".1f", "titlePadding": 15}},
            "y2": {"field": "hi"}
          }
        },
        {
          "data": {"name": "sD"},
          "transform": [{"calculate": "datum.mean + datum.sd", "as": "hi"}],
          "mark": {"type": "tick", "orient": "horizontal", "color": "#333333", "size": 6, "thickness": 0.8},
          "encoding": {
            "xOffset": {"field": "g", "type": "nominal", "scale": {"domain": ["DMSO", "GSK", "PMA"], "paddingInner": 0.32, "paddingOuter": 0}},
            "y": {"field": "hi", "type": "quantitative", "title": "relative JAM-A release", "axis": {"values": [0, 0.1, 0.2, 0.3, 0.4], "format": ".1f", "titlePadding": 15}}
          }
        },
        {
          "data": {"name": "rD"},
          "transform": [
            {"joinaggregate": [{"op": "count", "as": "n"}], "groupby": ["t", "g"]},
            {"calculate": "(datum.g == 'DMSO' ? 0 : datum.g == 'PMA' ? 20 : 10) + (datum.n == 4 ? 2 : 3) * (datum.r - 1)", "as": "slot"}
          ],
          "mark": {"type": "circle", "color": "#111111", "size": 12, "opacity": 1},
          "encoding": {
            "xOffset": {"field": "slot", "type": "ordinal", "scale": {"type": "point", "domain": [0,1,2,3,4,5,6,7,8,9,10,11,12,13,14,15,16,17,18,19,20,21,22,23,24,25,26], "padding": 0.4}},
            "y": {"field": "v", "type": "quantitative", "title": "relative JAM-A release", "axis": {"values": [0, 0.1, 0.2, 0.3, 0.4], "format": ".1f", "titlePadding": 15}}
          }
        },
        {
          "data": {"name": "rD"},
          "transform": [
            {"aggregate": [{"op": "max", "field": "v", "as": "vmax"}], "groupby": ["t", "g"]},
            {"calculate": "datum.t + ' ' + datum.g", "as": "cell"},
            {"lookup": "cell", "from": {"data": {"name": "sD"}, "key": "cell", "fields": ["mean", "sd", "sig"]}},
            {"filter": "datum.sig"},
            {"calculate": "max(datum.vmax, datum.mean + datum.sd)", "as": "ytop"}
          ],
          "mark": {"type": "text", "fontSize": 13, "baseline": "alphabetic", "dy": -2.5, "color": "#222222"},
          "encoding": {
            "xOffset": {"field": "g", "type": "nominal", "scale": {"domain": ["DMSO", "GSK", "PMA"], "paddingInner": 0.32, "paddingOuter": 0}},
            "y": {"field": "ytop", "type": "quantitative", "title": "relative JAM-A release", "axis": {"values": [0, 0.1, 0.2, 0.3, 0.4], "format": ".1f", "titlePadding": 15}},
            "text": {"field": "sig"}
          }
        }
      ]
    },
    {
      "title": {"text": "E", "dx": -60},
      "width": 188, "height": 134,
      "resolve": {"scale": {"xOffset": "independent"}},
      "encoding": {
        "x": {"field": "t", "type": "ordinal", "title": "time [h]", "scale": {"domain": ["0.5", "1", "2", "4"], "paddingInner": 0.25, "paddingOuter": 0.14}, "axis": {"labelAngle": 0, "bandPosition": 0.5, "titlePadding": 2}}
      },
      "layer": [
        {
          "data": {"name": "sE"},
          "mark": {"type": "bar", "stroke": "#3a3a3a", "strokeWidth": 0.8},
          "encoding": {
            "xOffset": {"field": "g", "type": "nominal", "scale": {"domain": ["DMSO", "Yoda1", "PMA"], "paddingInner": 0.32, "paddingOuter": 0}},
            "y": {"field": "mean", "type": "quantitative", "title": "relative TNFR1 release", "scale": {"domain": [0, 0.25]}, "axis": {"values": [0, 0.05, 0.1, 0.15, 0.2, 0.25], "format": ".2f", "titlePadding": 12}},
            "fill": {"field": "g", "type": "nominal", "scale": {"domain": ["DMSO", "Yoda1", "PMA"], "range": ["#ffffff", "#a6d6a1", "#2a6b7c"]},
              "legend": {"orient": "none", "legendX": 11, "legendY": -2, "title": null, "symbolType": "M-1,-0.45H1V0.45H-1Z", "symbolSize": 196, "symbolStrokeColor": "#333333", "symbolStrokeWidth": 0.8, "labelFontSize": 11, "rowPadding": 4, "labelOffset": 9, "padding": 0}}
          }
        },
        {
          "data": {"name": "sE"},
          "transform": [{"calculate": "datum.mean + datum.sd", "as": "hi"}],
          "mark": {"type": "rule", "color": "#333333", "strokeWidth": 0.8},
          "encoding": {
            "xOffset": {"field": "g", "type": "nominal", "scale": {"domain": ["DMSO", "Yoda1", "PMA"], "paddingInner": 0.32, "paddingOuter": 0}},
            "y": {"field": "mean", "type": "quantitative", "title": "relative TNFR1 release", "axis": {"values": [0, 0.05, 0.1, 0.15, 0.2, 0.25], "format": ".2f", "titlePadding": 12}},
            "y2": {"field": "hi"}
          }
        },
        {
          "data": {"name": "sE"},
          "transform": [{"calculate": "datum.mean + datum.sd", "as": "hi"}],
          "mark": {"type": "tick", "orient": "horizontal", "color": "#333333", "size": 6, "thickness": 0.8},
          "encoding": {
            "xOffset": {"field": "g", "type": "nominal", "scale": {"domain": ["DMSO", "Yoda1", "PMA"], "paddingInner": 0.32, "paddingOuter": 0}},
            "y": {"field": "hi", "type": "quantitative", "title": "relative TNFR1 release", "axis": {"values": [0, 0.05, 0.1, 0.15, 0.2, 0.25], "format": ".2f", "titlePadding": 12}}
          }
        },
        {
          "data": {"name": "rE"},
          "transform": [
            {"joinaggregate": [{"op": "count", "as": "n"}], "groupby": ["t", "g"]},
            {"calculate": "(datum.g == 'DMSO' ? 0 : datum.g == 'PMA' ? 20 : 10) + (datum.n == 4 ? 2 : 3) * (datum.r - 1)", "as": "slot"}
          ],
          "mark": {"type": "circle", "color": "#111111", "size": 12, "opacity": 1},
          "encoding": {
            "xOffset": {"field": "slot", "type": "ordinal", "scale": {"type": "point", "domain": [0,1,2,3,4,5,6,7,8,9,10,11,12,13,14,15,16,17,18,19,20,21,22,23,24,25,26], "padding": 0.4}},
            "y": {"field": "v", "type": "quantitative", "title": "relative TNFR1 release", "axis": {"values": [0, 0.05, 0.1, 0.15, 0.2, 0.25], "format": ".2f", "titlePadding": 12}}
          }
        },
        {
          "data": {"name": "rE"},
          "transform": [
            {"aggregate": [{"op": "max", "field": "v", "as": "vmax"}], "groupby": ["t", "g"]},
            {"calculate": "datum.t + ' ' + datum.g", "as": "cell"},
            {"lookup": "cell", "from": {"data": {"name": "sE"}, "key": "cell", "fields": ["mean", "sd", "sig"]}},
            {"filter": "datum.sig"},
            {"calculate": "max(datum.vmax, datum.mean + datum.sd)", "as": "ytop"}
          ],
          "mark": {"type": "text", "fontSize": 13, "baseline": "alphabetic", "dy": -2.5, "color": "#222222"},
          "encoding": {
            "xOffset": {"field": "g", "type": "nominal", "scale": {"domain": ["DMSO", "Yoda1", "PMA"], "paddingInner": 0.32, "paddingOuter": 0}},
            "y": {"field": "ytop", "type": "quantitative", "title": "relative TNFR1 release", "axis": {"values": [0, 0.05, 0.1, 0.15, 0.2, 0.25], "format": ".2f", "titlePadding": 12}},
            "text": {"field": "sig"}
          }
        }
      ]
    },
    {
      "title": {"text": "F", "dx": -88},
      "width": 176, "height": 134,
      "resolve": {"scale": {"xOffset": "independent"}},
      "encoding": {
        "x": {"field": "t", "type": "ordinal", "title": "time [h]", "scale": {"domain": ["0.5", "1", "2", "4"], "paddingInner": 0.28, "paddingOuter": 0.03}, "axis": {"labelAngle": 0, "bandPosition": 0.5, "titlePadding": 2}}
      },
      "layer": [
        {
          "data": {"name": "sF"},
          "mark": {"type": "bar", "stroke": "#3a3a3a", "strokeWidth": 0.8},
          "encoding": {
            "xOffset": {"field": "g", "type": "nominal", "scale": {"domain": ["DMSO", "GSK", "PMA"], "paddingInner": 0.32, "paddingOuter": 0}},
            "y": {"field": "mean", "type": "quantitative", "title": "relative TNFR1 release", "scale": {"domain": [0, 0.25]}, "axis": {"values": [0, 0.05, 0.1, 0.15, 0.2, 0.25], "format": ".2f", "titlePadding": 15}},
            "fill": {"field": "g", "type": "nominal", "scale": {"domain": ["DMSO", "GSK", "PMA"], "range": ["#ffffff", "#d9d79a", "#2a6b7c"]},
              "legend": {"orient": "none", "legendX": 4, "legendY": -3, "title": null, "symbolType": "M-1,-0.45H1V0.45H-1Z", "symbolSize": 196, "symbolStrokeColor": "#333333", "symbolStrokeWidth": 0.8, "labelFontSize": 11, "rowPadding": 4, "labelOffset": 9, "padding": 0}}
          }
        },
        {
          "data": {"name": "sF"},
          "transform": [{"calculate": "datum.mean + datum.sd", "as": "hi"}],
          "mark": {"type": "rule", "color": "#333333", "strokeWidth": 0.8},
          "encoding": {
            "xOffset": {"field": "g", "type": "nominal", "scale": {"domain": ["DMSO", "GSK", "PMA"], "paddingInner": 0.32, "paddingOuter": 0}},
            "y": {"field": "mean", "type": "quantitative", "title": "relative TNFR1 release", "axis": {"values": [0, 0.05, 0.1, 0.15, 0.2, 0.25], "format": ".2f", "titlePadding": 15}},
            "y2": {"field": "hi"}
          }
        },
        {
          "data": {"name": "sF"},
          "transform": [{"calculate": "datum.mean + datum.sd", "as": "hi"}],
          "mark": {"type": "tick", "orient": "horizontal", "color": "#333333", "size": 6, "thickness": 0.8},
          "encoding": {
            "xOffset": {"field": "g", "type": "nominal", "scale": {"domain": ["DMSO", "GSK", "PMA"], "paddingInner": 0.32, "paddingOuter": 0}},
            "y": {"field": "hi", "type": "quantitative", "title": "relative TNFR1 release", "axis": {"values": [0, 0.05, 0.1, 0.15, 0.2, 0.25], "format": ".2f", "titlePadding": 15}}
          }
        },
        {
          "data": {"name": "rF"},
          "transform": [
            {"joinaggregate": [{"op": "count", "as": "n"}], "groupby": ["t", "g"]},
            {"calculate": "(datum.g == 'DMSO' ? 0 : datum.g == 'PMA' ? 20 : 10) + (datum.n == 4 ? 2 : 3) * (datum.r - 1)", "as": "slot"}
          ],
          "mark": {"type": "circle", "color": "#111111", "size": 12, "opacity": 1},
          "encoding": {
            "xOffset": {"field": "slot", "type": "ordinal", "scale": {"type": "point", "domain": [0,1,2,3,4,5,6,7,8,9,10,11,12,13,14,15,16,17,18,19,20,21,22,23,24,25,26], "padding": 0.4}},
            "y": {"field": "v", "type": "quantitative", "title": "relative TNFR1 release", "axis": {"values": [0, 0.05, 0.1, 0.15, 0.2, 0.25], "format": ".2f", "titlePadding": 15}}
          }
        },
        {
          "data": {"name": "rF"},
          "transform": [
            {"aggregate": [{"op": "max", "field": "v", "as": "vmax"}], "groupby": ["t", "g"]},
            {"calculate": "datum.t + ' ' + datum.g", "as": "cell"},
            {"lookup": "cell", "from": {"data": {"name": "sF"}, "key": "cell", "fields": ["mean", "sd", "sig"]}},
            {"filter": "datum.sig"},
            {"calculate": "max(datum.vmax, datum.mean + datum.sd)", "as": "ytop"}
          ],
          "mark": {"type": "text", "fontSize": 13, "baseline": "alphabetic", "dy": -2.5, "color": "#222222"},
          "encoding": {
            "xOffset": {"field": "g", "type": "nominal", "scale": {"domain": ["DMSO", "GSK", "PMA"], "paddingInner": 0.32, "paddingOuter": 0}},
            "y": {"field": "ytop", "type": "quantitative", "title": "relative TNFR1 release", "axis": {"values": [0, 0.05, 0.1, 0.15, 0.2, 0.25], "format": ".2f", "titlePadding": 15}},
            "text": {"field": "sig"}
          }
        }
      ]
    },
    {
      "title": {"text": "G", "dx": -58},
      "width": 187, "height": 134,
      "resolve": {"scale": {"xOffset": "independent"}},
      "encoding": {
        "x": {"field": "t", "type": "ordinal", "title": "time [h]", "scale": {"domain": ["0.5", "1", "2", "4"], "paddingInner": 0.26, "paddingOuter": 0.14}, "axis": {"labelAngle": 0, "bandPosition": 0.5, "titlePadding": 2}}
      },
      "layer": [
        {
          "data": {"name": "sG"},
          "mark": {"type": "bar", "stroke": "#3a3a3a", "strokeWidth": 0.8},
          "encoding": {
            "xOffset": {"field": "g", "type": "nominal", "scale": {"domain": ["DMSO", "Yoda1", "PMA"], "paddingInner": 0.32, "paddingOuter": 0}},
            "y": {"field": "mean", "type": "quantitative", "title": ["HEY1/RPL13A", "relative mRNA expression"], "scale": {"domain": [0, 2]}, "axis": {"values": [0, 0.5, 1, 1.5, 2], "format": ".1f", "titlePadding": 11}},
            "fill": {"field": "g", "type": "nominal", "scale": {"domain": ["DMSO", "Yoda1", "PMA"], "range": ["#ffffff", "#a6d6a1", "#2a6b7c"]},
              "legend": {"orient": "none", "legendX": 14, "legendY": -6, "title": null, "symbolType": "M-1,-0.45H1V0.45H-1Z", "symbolSize": 196, "symbolStrokeColor": "#333333", "symbolStrokeWidth": 0.8, "labelFontSize": 11, "rowPadding": 4, "labelOffset": 9, "padding": 0}}
          }
        },
        {
          "data": {"name": "sG"},
          "transform": [{"calculate": "datum.mean + datum.sd", "as": "hi"}],
          "mark": {"type": "rule", "color": "#333333", "strokeWidth": 0.8},
          "encoding": {
            "xOffset": {"field": "g", "type": "nominal", "scale": {"domain": ["DMSO", "Yoda1", "PMA"], "paddingInner": 0.32, "paddingOuter": 0}},
            "y": {"field": "mean", "type": "quantitative", "title": ["HEY1/RPL13A", "relative mRNA expression"], "axis": {"values": [0, 0.5, 1, 1.5, 2], "format": ".1f", "titlePadding": 11}},
            "y2": {"field": "hi"}
          }
        },
        {
          "data": {"name": "sG"},
          "transform": [{"calculate": "datum.mean + datum.sd", "as": "hi"}],
          "mark": {"type": "tick", "orient": "horizontal", "color": "#333333", "size": 6, "thickness": 0.8},
          "encoding": {
            "xOffset": {"field": "g", "type": "nominal", "scale": {"domain": ["DMSO", "Yoda1", "PMA"], "paddingInner": 0.32, "paddingOuter": 0}},
            "y": {"field": "hi", "type": "quantitative", "title": ["HEY1/RPL13A", "relative mRNA expression"], "axis": {"values": [0, 0.5, 1, 1.5, 2], "format": ".1f", "titlePadding": 11}}
          }
        },
        {
          "data": {"name": "rG"},
          "transform": [
            {"joinaggregate": [{"op": "count", "as": "n"}], "groupby": ["t", "g"]},
            {"calculate": "(datum.g == 'DMSO' ? 0 : datum.g == 'PMA' ? 20 : 10) + (datum.n == 4 ? 2 : 3) * (datum.r - 1)", "as": "slot"}
          ],
          "mark": {"type": "circle", "color": "#111111", "size": 12, "opacity": 1},
          "encoding": {
            "xOffset": {"field": "slot", "type": "ordinal", "scale": {"type": "point", "domain": [0,1,2,3,4,5,6,7,8,9,10,11,12,13,14,15,16,17,18,19,20,21,22,23,24,25,26], "padding": 0.4}},
            "y": {"field": "v", "type": "quantitative", "title": ["HEY1/RPL13A", "relative mRNA expression"], "axis": {"values": [0, 0.5, 1, 1.5, 2], "format": ".1f", "titlePadding": 11}}
          }
        },
        {
          "data": {"name": "rG"},
          "transform": [
            {"aggregate": [{"op": "max", "field": "v", "as": "vmax"}], "groupby": ["t", "g"]},
            {"calculate": "datum.t + ' ' + datum.g", "as": "cell"},
            {"lookup": "cell", "from": {"data": {"name": "sG"}, "key": "cell", "fields": ["mean", "sd", "sig"]}},
            {"filter": "datum.sig"},
            {"calculate": "max(datum.vmax, datum.mean + datum.sd)", "as": "ytop"}
          ],
          "mark": {"type": "text", "fontSize": 13, "baseline": "alphabetic", "dy": -2.5, "color": "#222222"},
          "encoding": {
            "xOffset": {"field": "g", "type": "nominal", "scale": {"domain": ["DMSO", "Yoda1", "PMA"], "paddingInner": 0.32, "paddingOuter": 0}},
            "y": {"field": "ytop", "type": "quantitative", "title": ["HEY1/RPL13A", "relative mRNA expression"], "axis": {"values": [0, 0.5, 1, 1.5, 2], "format": ".1f", "titlePadding": 11}},
            "text": {"field": "sig"}
          }
        }
      ]
    },
    {
      "title": {"text": "H", "dx": -60},
      "width": 187, "height": 134,
      "resolve": {"scale": {"xOffset": "independent"}},
      "encoding": {
        "x": {"field": "t", "type": "ordinal", "title": "time [h]", "scale": {"domain": ["0.5", "1", "2", "4"], "paddingInner": 0.26, "paddingOuter": 0.14}, "axis": {"labelAngle": 0, "bandPosition": 0.5, "titlePadding": 2}}
      },
      "layer": [
        {
          "data": {"name": "sH"},
          "mark": {"type": "bar", "stroke": "#3a3a3a", "strokeWidth": 0.8},
          "encoding": {
            "xOffset": {"field": "g", "type": "nominal", "scale": {"domain": ["DMSO", "GSK", "PMA"], "paddingInner": 0.32, "paddingOuter": 0}},
            "y": {"field": "mean", "type": "quantitative", "title": ["HEY1/RPL13A", "relative mRNA expression"], "scale": {"domain": [0, 2]}, "axis": {"values": [0, 0.5, 1, 1.5, 2], "format": ".1f", "titlePadding": 11}},
            "fill": {"field": "g", "type": "nominal", "scale": {"domain": ["DMSO", "GSK", "PMA"], "range": ["#ffffff", "#d9d79a", "#2a6b7c"]},
              "legend": {"orient": "none", "legendX": 13, "legendY": -6, "title": null, "symbolType": "M-1,-0.45H1V0.45H-1Z", "symbolSize": 196, "symbolStrokeColor": "#333333", "symbolStrokeWidth": 0.8, "labelFontSize": 11, "rowPadding": 4, "labelOffset": 9, "padding": 0}}
          }
        },
        {
          "data": {"name": "sH"},
          "transform": [{"calculate": "datum.mean + datum.sd", "as": "hi"}],
          "mark": {"type": "rule", "color": "#333333", "strokeWidth": 0.8},
          "encoding": {
            "xOffset": {"field": "g", "type": "nominal", "scale": {"domain": ["DMSO", "GSK", "PMA"], "paddingInner": 0.32, "paddingOuter": 0}},
            "y": {"field": "mean", "type": "quantitative", "title": ["HEY1/RPL13A", "relative mRNA expression"], "axis": {"values": [0, 0.5, 1, 1.5, 2], "format": ".1f", "titlePadding": 11}},
            "y2": {"field": "hi"}
          }
        },
        {
          "data": {"name": "sH"},
          "transform": [{"calculate": "datum.mean + datum.sd", "as": "hi"}],
          "mark": {"type": "tick", "orient": "horizontal", "color": "#333333", "size": 6, "thickness": 0.8},
          "encoding": {
            "xOffset": {"field": "g", "type": "nominal", "scale": {"domain": ["DMSO", "GSK", "PMA"], "paddingInner": 0.32, "paddingOuter": 0}},
            "y": {"field": "hi", "type": "quantitative", "title": ["HEY1/RPL13A", "relative mRNA expression"], "axis": {"values": [0, 0.5, 1, 1.5, 2], "format": ".1f", "titlePadding": 11}}
          }
        },
        {
          "data": {"name": "rH"},
          "transform": [
            {"joinaggregate": [{"op": "count", "as": "n"}], "groupby": ["t", "g"]},
            {"calculate": "(datum.g == 'DMSO' ? 0 : datum.g == 'PMA' ? 20 : 10) + (datum.n == 4 ? 2 : 3) * (datum.r - 1)", "as": "slot"}
          ],
          "mark": {"type": "circle", "color": "#111111", "size": 12, "opacity": 1},
          "encoding": {
            "xOffset": {"field": "slot", "type": "ordinal", "scale": {"type": "point", "domain": [0,1,2,3,4,5,6,7,8,9,10,11,12,13,14,15,16,17,18,19,20,21,22,23,24,25,26], "padding": 0.4}},
            "y": {"field": "v", "type": "quantitative", "title": ["HEY1/RPL13A", "relative mRNA expression"], "axis": {"values": [0, 0.5, 1, 1.5, 2], "format": ".1f", "titlePadding": 11}}
          }
        },
        {
          "data": {"name": "rH"},
          "transform": [
            {"aggregate": [{"op": "max", "field": "v", "as": "vmax"}], "groupby": ["t", "g"]},
            {"calculate": "datum.t + ' ' + datum.g", "as": "cell"},
            {"lookup": "cell", "from": {"data": {"name": "sH"}, "key": "cell", "fields": ["mean", "sd", "sig"]}},
            {"filter": "datum.sig"},
            {"calculate": "max(datum.vmax, datum.mean + datum.sd)", "as": "ytop"}
          ],
          "mark": {"type": "text", "fontSize": 13, "baseline": "alphabetic", "dy": -2.5, "color": "#222222"},
          "encoding": {
            "xOffset": {"field": "g", "type": "nominal", "scale": {"domain": ["DMSO", "GSK", "PMA"], "paddingInner": 0.32, "paddingOuter": 0}},
            "y": {"field": "ytop", "type": "quantitative", "title": ["HEY1/RPL13A", "relative mRNA expression"], "axis": {"values": [0, 0.5, 1, 1.5, 2], "format": ".1f", "titlePadding": 11}},
            "text": {"field": "sig"}
          }
        }
      ]
    }
  ],
  "config": {
    "font": "Liberation Sans",
    "view": {"stroke": null},
    "axis": {
      "grid": false, "domainColor": "#333333", "tickColor": "#333333", "labelColor": "#1a1a1a", "titleColor": "#1a1a1a",
      "labelFontSize": 12, "titleFontWeight": "normal", "tickSize": 4, "labelPadding": 2,
      "labelOverlap": false, "labelFont": "Liberation Sans", "titleFont": "Liberation Sans"
    },
    "axisX": {"titleFontSize": 11},
    "axisY": {"titleFontSize": 11},
    "legend": {"labelFont": "Liberation Sans", "labelColor": "#1a1a1a"},
    "title": {"anchor": "start", "frame": "group", "fontSize": 19, "fontWeight": "bold", "color": "#000000", "offset": 23, "font": "Liberation Sans"}
  }
}
